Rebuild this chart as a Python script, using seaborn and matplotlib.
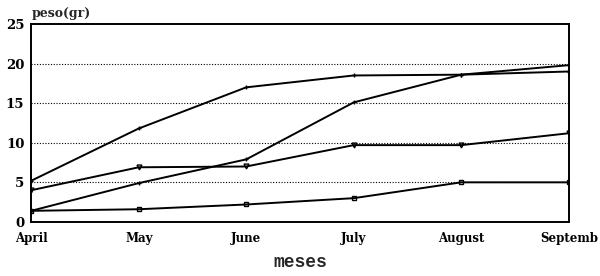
import numpy as np
import pandas as pd
import matplotlib
matplotlib.use("Agg")
import matplotlib.pyplot as plt
import seaborn as sns

months = ["April", "May", "June", "July", "August", "Septemb"]
serie_a = [5.2, 11.8, 17.0, 18.5, 18.6, 19.0]
serie_b = [1.4, 4.9, 7.9, 15.1, 18.6, 19.8]
serie_c = [4.0, 6.9, 7.0, 9.7, 9.7, 11.2]
serie_d = [1.4, 1.6, 2.2, 3.0, 5.0, 5.0]
y_ticks = [0, 5, 10, 15, 20, 25]

sns.set_theme(style="white")
plt.rcParams['font.family'] = ['DejaVu Serif']

series = {"a": serie_a, "b": serie_b, "c": serie_c, "d": serie_d}
markers = {"a": "+", "b": "+", "c": "v", "d": "s"}

fig = plt.figure(figsize=(6, 2.76), dpi=100)
ax = fig.add_axes([0.052, 0.196, 0.896, 0.717])

for name, vals in series.items():
    df = pd.DataFrame({"x": range(len(months)), "peso": vals})
    sns.lineplot(data=df, x="x", y="peso", color="black", marker=markers[name],
                 linewidth=1.4, markersize=3.5, markerfacecolor="none",
                 markeredgecolor="black", markeredgewidth=1.0, ax=ax)

ax.set_xlim(0, len(months) - 1)
ax.set_ylim(0, 25)
ax.set_xticks(range(len(months)))
ax.set_xticklabels(months, fontsize=8.5, fontweight="bold")
ax.set_yticks(y_ticks)
ax.set_yticklabels([str(t) for t in y_ticks], fontsize=9.5, fontweight="bold")
for t in y_ticks[1:-1]:
    ax.axhline(t, color="black", linestyle=(0, (1, 1.5)), linewidth=0.8, zorder=0)

ax.tick_params(axis="x", direction="in", length=6, width=1, pad=7, colors="black")
ax.tick_params(axis="y", direction="out", length=3, width=1, pad=2, colors="black")
for s in ax.spines.values():
    s.set_color("black")
    s.set_linewidth(1.4)

ax.set_xlabel("meses", fontsize=13, family="Liberation Mono", fontweight="bold", labelpad=7)
ax.set_ylabel("")
ax.text(0.0, 1.02, "peso(gr)", transform=ax.transAxes, fontsize=9,
        fontweight="bold", ha="left", va="bottom")

fig.savefig("out.png", dpi=100)
